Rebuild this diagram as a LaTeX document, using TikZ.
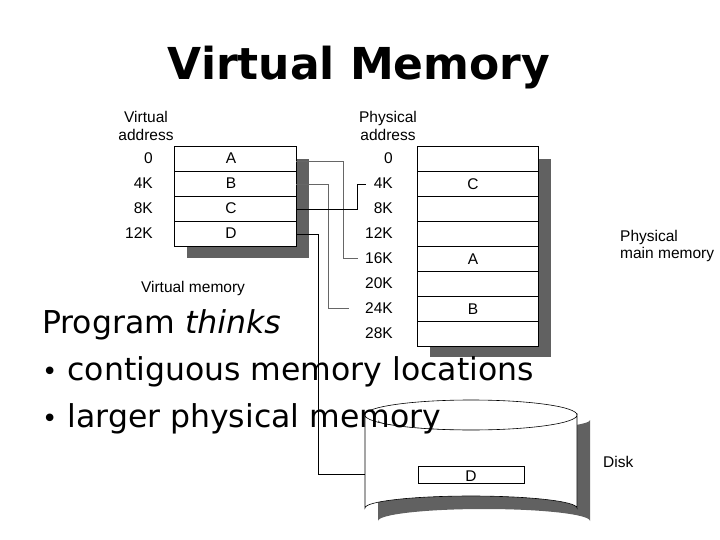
\documentclass[tikz,border=0pt]{standalone}
\usepackage{fontspec}
\setmainfont{DejaVu Sans}
\newfontfamily\diag{Liberation Sans}
\begin{document}
\begin{tikzpicture}[x=1pt,y=-1pt,
  cell/.style={draw,fill=white,line width=0.6pt},
  shad/.style={fill=black!62},
  lab/.style={font=\diag\fontsize{15.5}{15.5}\selectfont,inner sep=0pt},
  conn/.style={line width=0.6pt,gray!80!black}]
\useasboundingbox[fill=white] (0,0) rectangle (720,540);
\node[font=\bfseries\fontsize{44}{44}\selectfont] (title) at (359,68) {Virtual Memory};
% virtual memory
\fill[shad] (187,159) rectangle (309,258);
\foreach \i/\t in {0/A,1/B,2/C,3/D}{
  \draw[cell] (174,146+25*\i) rectangle (296,171+25*\i);
  \node[lab] (v\t) at (231,158.5+25*\i) {\t};
}
\foreach \i/\t in {0/0,1/4K,2/8K,3/12K}
  \node[lab,anchor=east] (va\i) at (153,158.5+25*\i) {\t};
\node[lab,align=center] (vhead) at (146,126) {Virtual\\[2pt]address};
\node[lab] (vmem) at (193,288) {Virtual memory};
% physical memory
\fill[shad] (430,159) rectangle (551,357);
\foreach \i in {0,...,7}
  \draw[cell] (417,146+25*\i) rectangle (538,171+25*\i);
\foreach \i/\t in {0/0,1/4K,2/8K,3/12K,4/16K,5/20K,6/24K,7/28K}
  \node[lab,anchor=east] (pa\i) at (393,158.5+25*\i) {\t};
\node[lab] (pC) at (473,184) {C};
\node[lab] (pA) at (473,259) {A};
\node[lab] (pB) at (473,309) {B};
\node[lab,align=center] (phead) at (388,126) {Physical\\[2pt]address};
\node[lab,align=left,anchor=west] (pmm) at (620,246) {Physical\\[2pt]main memory};
% disk
\fill[shad] (378,420) -- (378,521) arc[start angle=180,end angle=360,x radius=106,y radius=12] -- (590,420) arc[start angle=0,end angle=180,x radius=106,y radius=10] -- cycle;
\draw[fill=white,line width=0.6pt] (365,415) -- (365,508) arc[start angle=180,end angle=360,x radius=106,y radius=12] -- (577,415) arc[start angle=0,end angle=180,x radius=106,y radius=15] -- cycle;
\draw[line width=0.6pt] (365,415) arc[start angle=180,end angle=360,x radius=106,y radius=15];
\draw[line width=0.6pt] (418,466) rectangle (524,483);
\node[lab] (dD) at (471,476) {D};
\node[lab,anchor=west] (disk) at (603,462) {Disk};
\coordinate (dl) at (365,474);
% connectors
\draw[conn] (296,161) -| (343,258) -- (358,258);
\draw[conn] (296,184) -| (328,308) -- (349,308);
\draw[conn,black] (296,209) -| (357,184) -- (366,184);
\draw[conn,black] (296,234) -| (318,474) -- (dl);
% text
\begin{scope}[every node/.style={anchor=base west,inner sep=0pt,font=\fontsize{31.5}{31.5}\selectfont}]
\node (t1) at (42,333) {Program \textit{thinks}};
\node (t2) at (42,380) {{\fontsize{26}{26}\selectfont•} contiguous memory locations};
\node (t3) at (42,427) {{\fontsize{26}{26}\selectfont•} larger physical memory};
\end{scope}
\end{tikzpicture}
\end{document}
